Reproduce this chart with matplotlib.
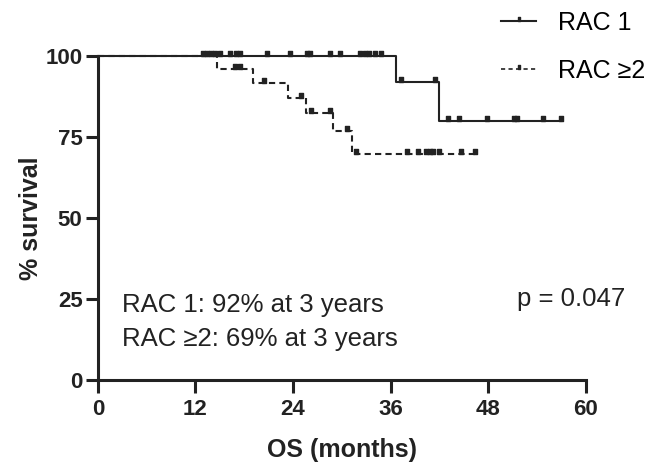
import matplotlib.pyplot as plt
from matplotlib.path import Path

plt.rcParams['font.family'] = ['Liberation Sans', 'DejaVu Sans']

# Kaplan-Meier steps (months, % survival)
rac1_times = [0, 36.7, 42.0, 57.0]
rac1_surv = [100, 92, 80, 80]
rac1_cens_t = [12.9, 13.4, 13.9, 14.4, 15.0, 16.2, 17.0, 17.5, 20.8, 23.6, 25.7, 26.1,
               28.5, 29.8, 32.2, 32.8, 33.4, 34.1, 34.8,
               37.3, 41.4, 43.0, 44.4, 47.8, 51.2, 51.6, 54.7, 56.9]

rac2_times = [0, 14.6, 19.1, 23.4, 25.6, 28.9, 31.3, 46.5]
rac2_surv = [100, 96, 91.7, 87, 82.5, 76.7, 69.6, 69.6]
rac2_cens_t = [16.9, 17.5, 20.4, 25.0, 26.2, 28.5, 30.6, 31.8,
               38.0, 39.4, 40.4, 40.8, 41.2, 42.0, 44.7, 46.4]


def surv_at(times, surv, t):
    s = surv[0]
    for ti, si in zip(times, surv):
        if t >= ti:
            s = si
    return s


# small tick mark sitting on top of the line
cens_marker = Path([(-0.5, 0), (0.5, 0), (0.5, 1.6), (-0.5, 1.6), (-0.5, 0)],
                   [Path.MOVETO, Path.LINETO, Path.LINETO, Path.LINETO, Path.CLOSEPOLY])

ink = '#222222'
fig = plt.figure(figsize=(6.48, 4.65), dpi=100)
ax = fig.add_axes([0.151, 0.183, 0.753, 0.697])

ax.step(rac1_times, rac1_surv, where='post', color=ink, lw=1.5, clip_on=False)
ax.plot(rac1_cens_t, [surv_at(rac1_times, rac1_surv, t) for t in rac1_cens_t],
        ls='none', marker=cens_marker, ms=7, color=ink, clip_on=False)

ax.step(rac2_times, rac2_surv, where='post', color=ink, lw=1.5, ls=(0, (3, 2)),
        clip_on=False)
ax.plot(rac2_cens_t, [surv_at(rac2_times, rac2_surv, t) for t in rac2_cens_t],
        ls='none', marker=cens_marker, ms=7, color=ink, clip_on=False)

# legend handles
l1, = ax.plot([], [], color=ink, lw=1.5, marker=cens_marker, ms=6)
l2, = ax.plot([], [], color=ink, lw=1.2, ls=(0, (2.5, 2)), marker=cens_marker, ms=6)
fig.legend([l1, l2], ['RAC 1', 'RAC \u22652'], loc='upper left', bbox_to_anchor=(0.739, 1.025),
           frameon=False, fontsize=18, handlelength=1.4, handletextpad=0.85,
           labelspacing=0.95, numpoints=1)

ax.set_xlim(0, 60)
ax.set_ylim(0, 100)
ax.set_xticks([0, 12, 24, 36, 48, 60])
ax.set_yticks([0, 25, 50, 75, 100])
ax.spines['top'].set_visible(False)
ax.spines['right'].set_visible(False)
for s in ['left', 'bottom']:
    ax.spines[s].set_linewidth(2.2)
    ax.spines[s].set_color(ink)
ax.tick_params(width=2.2, length=9, color=ink, labelsize=16)
ax.tick_params(axis='x', pad=5)
ax.tick_params(axis='y', pad=2)
for lab in ax.get_xticklabels() + ax.get_yticklabels():
    lab.set_fontweight('bold')
    lab.set_color(ink)

ax.set_xlabel('OS (months)', fontsize=18, fontweight='bold', color=ink, labelpad=13)
ax.set_ylabel('% survival', fontsize=18, fontweight='bold', color=ink, labelpad=2)

ax.text(3.0, 23, 'RAC 1: 92% at 3 years', fontsize=18.5, color=ink, va='center')
ax.text(3.0, 12.5, 'RAC \u22652: 69% at 3 years', fontsize=18.5, color=ink, va='center')
ax.text(51.5, 25, 'p = 0.047', fontsize=18.5, color=ink, va='center')

fig.savefig('out.png', dpi=100)
